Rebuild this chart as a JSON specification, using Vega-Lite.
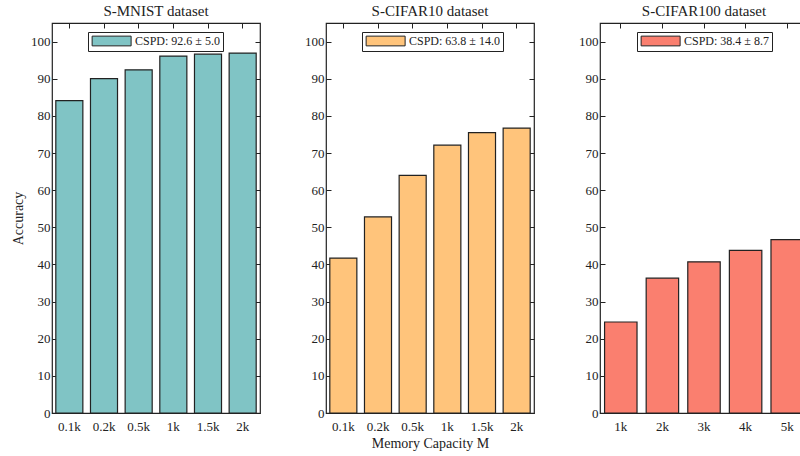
{
  "$schema": "https://vega.github.io/schema/vega-lite/v6.json",
  "background": "white",
  "padding": {"left": 10, "top": 2, "right": 0, "bottom": 0},
  "bounds": "flush",
  "spacing": 66,
  "datasets": {
    "acc": [
      {"ds": "S-MNIST", "cap": "0.1k", "acc": 84.1},
      {"ds": "S-MNIST", "cap": "0.2k", "acc": 90.0},
      {"ds": "S-MNIST", "cap": "0.5k", "acc": 92.4},
      {"ds": "S-MNIST", "cap": "1k", "acc": 96.1},
      {"ds": "S-MNIST", "cap": "1.5k", "acc": 96.6},
      {"ds": "S-MNIST", "cap": "2k", "acc": 96.9},
      {"ds": "S-CIFAR10", "cap": "0.1k", "acc": 41.7},
      {"ds": "S-CIFAR10", "cap": "0.2k", "acc": 52.8},
      {"ds": "S-CIFAR10", "cap": "0.5k", "acc": 64.0},
      {"ds": "S-CIFAR10", "cap": "1k", "acc": 72.1},
      {"ds": "S-CIFAR10", "cap": "1.5k", "acc": 75.5},
      {"ds": "S-CIFAR10", "cap": "2k", "acc": 76.7},
      {"ds": "S-CIFAR100", "cap": "1k", "acc": 24.5},
      {"ds": "S-CIFAR100", "cap": "2k", "acc": 36.3},
      {"ds": "S-CIFAR100", "cap": "3k", "acc": 40.7},
      {"ds": "S-CIFAR100", "cap": "4k", "acc": 43.8},
      {"ds": "S-CIFAR100", "cap": "5k", "acc": 46.7}
    ]
  },
  "config": {
    "view": {"stroke": "#222222", "strokeWidth": 1.2},
    "axis": {
      "domain": false,
      "grid": false,
      "tickSize": -5,
      "tickColor": "#222222",
      "tickWidth": 1,
      "labelFont": "Liberation Serif",
      "labelFontSize": 13,
      "labelColor": "#222222",
      "titleFont": "Liberation Serif",
      "titleFontSize": 14,
      "titleFontWeight": "normal",
      "titleColor": "#222222"
    },
    "title": {"font": "Liberation Serif", "fontSize": 15, "fontWeight": "normal", "color": "#222222", "offset": 4},
    "legend": {
      "orient": "none",
      "title": null,
      "symbolType": "M-1,-1H7V1H-1Z",
      "symbolSize": 95,
      "symbolStrokeColor": "#222222",
      "symbolStrokeWidth": 1,
      "symbolOpacity": 1,
      "strokeColor": "#222222",
      "fillColor": "white",
      "padding": 3,
      "labelFont": "Liberation Serif",
      "labelFontSize": 12,
      "labelColor": "#222222",
      "labelOffset": 32
    }
  },
  "hconcat": [
    {
      "width": 208, "height": 390,
      "title": "S-MNIST dataset",
      "data": {"name": "acc"},
      "transform": [{"filter": "datum.ds == 'S-MNIST'"}],
      "layer": [
        {
          "mark": {"type": "bar", "stroke": "#222222", "strokeWidth": 1.2},
          "encoding": {
            "x": {"field": "cap", "type": "nominal", "sort": ["0.1k", "0.2k", "0.5k", "1k", "1.5k", "2k"], "scale": {"paddingInner": 0.22, "paddingOuter": 0.11}, "axis": {"orient": "bottom", "title": null, "labelAngle": 0, "labelPadding": 12}},
            "y": {"field": "acc", "type": "quantitative", "scale": {"domain": [0, 105], "nice": false}, "axis": {"orient": "left", "values": [0, 10, 20, 30, 40, 50, 60, 70, 80, 90, 100], "title": "Accuracy", "labelPadding": 7, "titlePadding": 5}},
            "color": {"datum": "CSPD: 92.6 ± 5.0", "type": "nominal", "scale": {"range": ["#80C4C5"]}, "legend": {"legendX": 36, "legendY": 9}}
          }
        },
        {
          "mark": {"type": "bar", "opacity": 0},
          "encoding": {
            "x": {"field": "cap", "type": "nominal", "sort": ["0.1k", "0.2k", "0.5k", "1k", "1.5k", "2k"], "axis": {"orient": "top", "title": null, "labels": false}},
            "y": {"field": "acc", "type": "quantitative", "axis": {"orient": "right", "values": [0, 10, 20, 30, 40, 50, 60, 70, 80, 90, 100], "title": null, "labels": false}}
          }
        }
      ],
      "resolve": {"axis": {"x": "independent", "y": "independent"}}
    },
    {
      "width": 208, "height": 390,
      "title": "S-CIFAR10 dataset",
      "data": {"name": "acc"},
      "transform": [{"filter": "datum.ds == 'S-CIFAR10'"}],
      "layer": [
        {
          "mark": {"type": "bar", "stroke": "#222222", "strokeWidth": 1.2},
          "encoding": {
            "x": {"field": "cap", "type": "nominal", "sort": ["0.1k", "0.2k", "0.5k", "1k", "1.5k", "2k"], "scale": {"paddingInner": 0.22, "paddingOuter": 0.11}, "axis": {"orient": "bottom", "title": "Memory Capacity M", "labelAngle": 0, "labelPadding": 12, "titlePadding": 3}},
            "y": {"field": "acc", "type": "quantitative", "scale": {"domain": [0, 105], "nice": false}, "axis": {"orient": "left", "values": [0, 10, 20, 30, 40, 50, 60, 70, 80, 90, 100], "title": null, "labelPadding": 7}},
            "color": {"datum": "CSPD: 63.8 ± 14.0", "type": "nominal", "scale": {"range": ["#FFC47B"]}, "legend": {"legendX": 36, "legendY": 9}}
          }
        },
        {
          "mark": {"type": "bar", "opacity": 0},
          "encoding": {
            "x": {"field": "cap", "type": "nominal", "sort": ["0.1k", "0.2k", "0.5k", "1k", "1.5k", "2k"], "axis": {"orient": "top", "title": null, "labels": false}},
            "y": {"field": "acc", "type": "quantitative", "axis": {"orient": "right", "values": [0, 10, 20, 30, 40, 50, 60, 70, 80, 90, 100], "title": null, "labels": false}}
          }
        }
      ],
      "resolve": {"axis": {"x": "independent", "y": "independent"}}
    },
    {
      "width": 208, "height": 390,
      "title": "S-CIFAR100 dataset",
      "data": {"name": "acc"},
      "transform": [{"filter": "datum.ds == 'S-CIFAR100'"}],
      "layer": [
        {
          "mark": {"type": "bar", "stroke": "#222222", "strokeWidth": 1.2},
          "encoding": {
            "x": {"field": "cap", "type": "nominal", "sort": ["1k", "2k", "3k", "4k", "5k"], "scale": {"paddingInner": 0.22, "paddingOuter": 0.11}, "axis": {"orient": "bottom", "title": null, "labelAngle": 0, "labelPadding": 12}},
            "y": {"field": "acc", "type": "quantitative", "scale": {"domain": [0, 105], "nice": false}, "axis": {"orient": "left", "values": [0, 10, 20, 30, 40, 50, 60, 70, 80, 90, 100], "title": null, "labelPadding": 7}},
            "color": {"datum": "CSPD: 38.4 ± 8.7", "type": "nominal", "scale": {"range": ["#FA7F6F"]}, "legend": {"legendX": 37, "legendY": 9}}
          }
        },
        {
          "mark": {"type": "bar", "opacity": 0},
          "encoding": {
            "x": {"field": "cap", "type": "nominal", "sort": ["1k", "2k", "3k", "4k", "5k"], "axis": {"orient": "top", "title": null, "labels": false}},
            "y": {"field": "acc", "type": "quantitative", "axis": {"orient": "right", "values": [0, 10, 20, 30, 40, 50, 60, 70, 80, 90, 100], "title": null, "labels": false}}
          }
        }
      ],
      "resolve": {"axis": {"x": "independent", "y": "independent"}}
    }
  ],
  "resolve": {"scale": {"color": "independent"}}
}
